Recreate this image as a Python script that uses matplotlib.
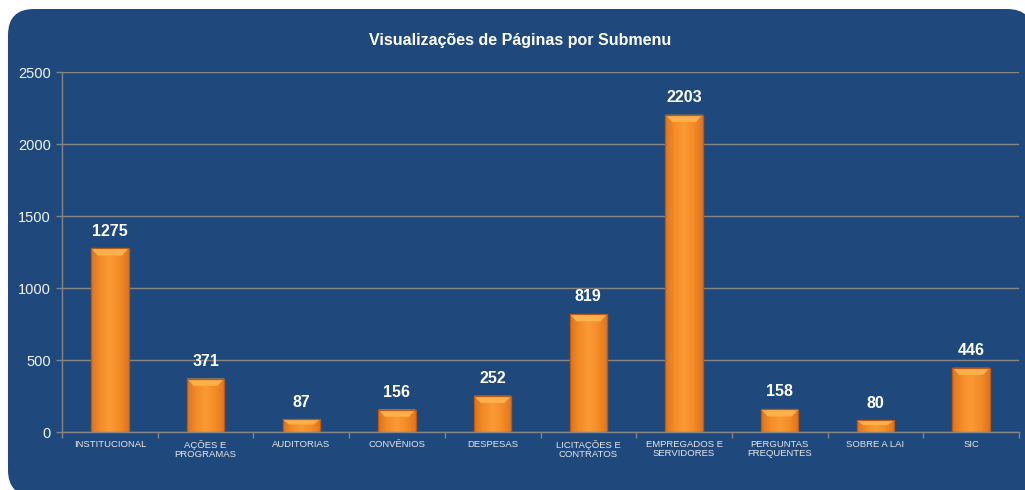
import matplotlib
matplotlib.use("Agg")
import matplotlib.pyplot as plt
import numpy as np
from matplotlib.patches import FancyBboxPatch, Polygon
from matplotlib.colors import LinearSegmentedColormap

categories = ["INSTITUCIONAL", "AÇÕES E\nPROGRAMAS", "AUDITORIAS", "CONVÊNIOS", "DESPESAS",
              "LICITAÇÕES E\nCONTRATOS", "EMPREGADOS E\nSERVIDORES", "PERGUNTAS\nFREQUENTES",
              "SOBRE A LAI", "SIC"]
values = [1275, 371, 87, 156, 252, 819, 2203, 158, 80, 446]
yticks = [0, 500, 1000, 1500, 2000, 2500]
title = "Visualizações de Páginas por Submenu"

plt.rcParams['font.family'] = ['Liberation Sans', 'DejaVu Sans']

W, H = 1025, 490
fig = plt.figure(figsize=(W / 100, H / 100), dpi=100)
fig.patch.set_facecolor("white")

bg = fig.add_axes([0, 0, 1, 1])
bg.set_xlim(0, W)
bg.set_ylim(H, 0)
bg.axis("off")
bg.add_patch(FancyBboxPatch((8, 9), 1025, 487, boxstyle="round,pad=0,rounding_size=26",
                            facecolor="#1F497D", edgecolor="none"))

ax = fig.add_axes([62 / W, 58 / H, (1019 - 62) / W, (432 - 72) / H])
ax.set_facecolor("none")
n = len(values)
x = np.arange(n)
bw = 0.39
bars = ax.bar(x, values, width=bw, color="#F7902A", edgecolor="none", zorder=3)

cmap = LinearSegmentedColormap.from_list("o", ["#DE7420", "#F48C28", "#FA9A34", "#F48C28", "#DE7420"])
grad = np.linspace(0, 1, 64).reshape(1, -1)
for b, v in zip(bars, values):
    x0 = b.get_x()
    x1 = x0 + b.get_width()
    im = ax.imshow(grad, extent=[x0, x1, 0, v], aspect="auto", cmap=cmap, zorder=3.5,
                   origin="lower")
    im.set_clip_path(b)
    bh = min(50, 0.4 * v)
    d = 0.07
    ax.add_patch(Polygon([(x0, v), (x1, v), (x1 - d, v - bh), (x0 + d, v - bh)],
                         closed=True, facecolor="#FFB04A", edgecolor="none", zorder=3.6))
    ax.add_patch(Polygon([(x0, v), (x1, v), (x1, 0), (x0, 0)], closed=True,
                         facecolor="none", edgecolor="#B85A14", linewidth=0.9, zorder=3.7))
    ax.text(b.get_x() + b.get_width() / 2, v + 68, f"{v}", ha="center", va="bottom",
            color="white", fontsize=11.5, fontweight="bold", zorder=5)

ax.set_xlim(-0.5, n - 0.5)
ax.set_ylim(0, 2500)
ax.set_yticks(yticks)
ax.set_yticklabels([str(t) for t in yticks], color="#F2F2F2", fontsize=10.5)
ax.yaxis.grid(True, color="#858585", linewidth=1.0, zorder=0)
ax.set_axisbelow(True)

ax.set_xticks(x)
ax.set_xticklabels(categories, color="#E8E8E8", fontsize=6.8, linespacing=1.0)
ax.tick_params(axis="x", length=0, pad=6)
ax.set_xticks(np.arange(-0.5, n, 1), minor=True)
ax.tick_params(axis="x", which="minor", length=4, color="#858585", width=1)
ax.tick_params(axis="y", length=4, color="#858585", width=1, pad=4)

for s in ["top", "right"]:
    ax.spines[s].set_visible(False)
for s in ["left", "bottom"]:
    ax.spines[s].set_color("#858585")
    ax.spines[s].set_linewidth(1.0)

fig.text(520 / W, 1 - 40 / H, title, ha="center", va="center", color="white",
         fontsize=11.5, fontweight="bold")

fig.savefig("out.png", dpi=100, facecolor=fig.get_facecolor())
